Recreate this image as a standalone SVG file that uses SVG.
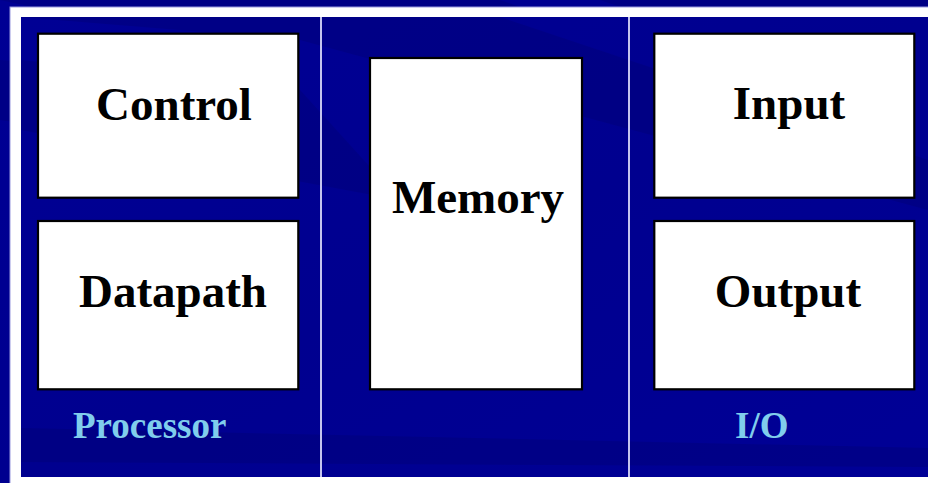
<svg xmlns="http://www.w3.org/2000/svg" width="928" height="483" viewBox="0 0 928 483">
  <defs>
    <linearGradient id="bg" x1="0" y1="0" x2="1" y2="1">
      <stop offset="0" stop-color="#000094"/>
      <stop offset="0.5" stop-color="#00008f"/>
      <stop offset="1" stop-color="#000096"/>
    </linearGradient>
  </defs>
  <style>
    .box { fill: #ffffff; stroke: #000000; stroke-width: 2.2; }
    .lbl { font-family: "Liberation Serif", "Times New Roman", serif; font-weight: bold; font-size: 47px; fill: #000000; text-anchor: middle; }
    .grp { font-family: "Liberation Serif", "Times New Roman", serif; font-weight: bold; font-size: 37px; fill: #80cdec; }
    .div { stroke: #c4c4ee; stroke-width: 2; }
    .streak { fill: #000070; opacity: 0.35; }
  </style>
  <!-- background -->
  <rect x="0" y="0" width="928" height="483" fill="url(#bg)"/>
  <polygon class="streak" points="0,0 500,0 928,150 928,200"/>
  <polygon class="streak" points="0,60 0,120 420,180 300,80"/>
  <polygon class="streak" points="600,0 928,0 928,110"/>
  <!-- white frame -->
  <rect x="10" y="7" width="930" height="480" fill="#ffffff" stroke="#9a9ade" stroke-width="1"/>
  <rect x="21" y="17" width="920" height="460" fill="url(#bg)"/>
  <polygon class="streak" points="21,17 500,17 928,160 928,210 300,40"/>
  <polygon class="streak" points="21,60 21,130 400,200 300,90"/>
  <polygon class="streak" points="21,428 928,448 928,467 21,462"/>
  <!-- dividers -->
  <g id="dividers">
    <line class="div" x1="321" y1="17" x2="321" y2="477"/>
    <line class="div" x1="629" y1="17" x2="629" y2="477"/>
  </g>
  <g id="control">
    <rect class="box" x="38" y="33.7" width="260.3" height="164"/>
    <text class="lbl" x="174" y="120">Control</text>
  </g>
  <g id="datapath">
    <rect class="box" x="38" y="221" width="260.3" height="168.3"/>
    <text class="lbl" x="173" y="307">Datapath</text>
  </g>
  <g id="memory">
    <rect class="box" x="370" y="58" width="212" height="331.3"/>
    <text class="lbl" x="478" y="213">Memory</text>
  </g>
  <g id="input">
    <rect class="box" x="654.3" y="33.7" width="260" height="164"/>
    <text class="lbl" x="789" y="119">Input</text>
  </g>
  <g id="output">
    <rect class="box" x="654.3" y="221" width="260" height="168.3"/>
    <text class="lbl" x="788" y="307">Output</text>
  </g>
  <g id="processor">
    <text class="grp" x="73" y="438">Processor</text>
  </g>
  <g id="io">
    <text class="grp" x="735" y="438">I/O</text>
  </g>
  <g id="connectors"></g>
</svg>
